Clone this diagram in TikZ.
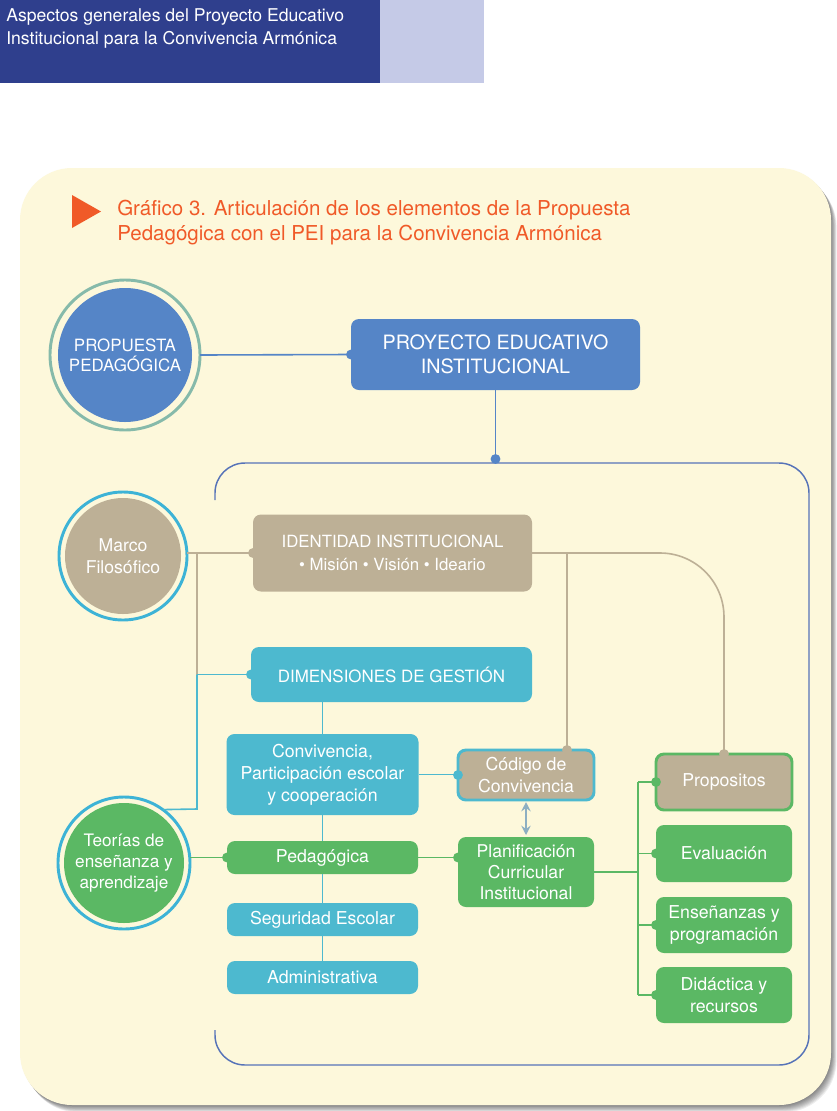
\documentclass[tikz,border=0pt]{standalone}
\usepackage{fontspec}
\setmainfont{TeX Gyre Heros}
\usetikzlibrary{arrows.meta,calc}
\definecolor{hdrdark}{HTML}{2F3F8D}
\definecolor{hdrlight}{HTML}{C5CAE7}
\definecolor{panel}{HTML}{FDF8DB}
\definecolor{pblue}{HTML}{5585C7}
\definecolor{pcyan}{HTML}{4DB9CF}
\definecolor{ptan}{HTML}{BDB096}
\definecolor{pgreen}{HTML}{5BB864}
\definecolor{ringgr}{HTML}{86BAAA}
\definecolor{ringcy}{HTML}{3DB3D6}
\definecolor{frameb}{HTML}{5673B8}
\definecolor{porange}{HTML}{F05A28}
\definecolor{parrow}{HTML}{8DAFC2}
\tikzset{
  sz/.style 2 args={minimum width=#1*0.75pt, minimum height=#2*0.75pt},
  box/.style={rounded corners=6pt, align=center, text=white, inner sep=0pt, outer sep=0pt, font=\fontsize{13.3}{16.5}\selectfont},
  bluebox/.style={box, fill=pblue},
  cyanbox/.style={box, fill=pcyan},
  tanbox/.style={box, fill=ptan},
  greenbox/.style={box, fill=pgreen},
  ringnode/.style n args={4}{circle, draw=#1, line width=2.2pt, fill=panel, inner sep=0pt, outer sep=0pt,
     minimum size=#2*0.75pt, text=white, align=center,
     path picture={\fill[#3] (path picture bounding box.center) circle[radius=#4];}},
  conn/.style={line width=1.2pt},
  cblue/.style={conn, draw=pblue},
  ccyan/.style={conn, draw=pcyan},
  ctan/.style={conn, draw=ptan},
  cgreen/.style={conn, draw=pgreen},
  hdrtext/.style={text=white, inner sep=0pt, font=\fontsize{13.2}{14}\selectfont},
}
\newcommand{\dotat}[2]{\fill[#1] (#2) circle[radius=3.7pt];}
\begin{document}
\begin{tikzpicture}[x=0.75pt,y=-0.75pt]
\useasboundingbox (0,0) rectangle (837,1111);
\fill[white] (0,0) rectangle (837,1111);
% header
\fill[hdrdark] (0,0) rectangle (380,83);
\fill[hdrlight] (380,0) rectangle (484,83);
\node[hdrtext, anchor=west] (h1) at (6,17) {Aspectos generales del Proyecto Educativo};
\node[hdrtext, anchor=west] (h2) at (6,40) {Institucional para la Convivencia Armónica};
% panel with shadow
\foreach \i in {1,...,8} {
  \fill[black, opacity=0.07, rounded corners=39pt] ({20+\i*0.7},{168+\i*0.9}) rectangle ({831+\i*0.7},{1105+\i*0.9});
}
\fill[panel, rounded corners=39pt] (20,168) rectangle (831,1105);
% title
\fill[porange] (72,195) -- (101,211.5) -- (72,228) -- cycle;
\node[anchor=west, text=porange, align=left, inner sep=0pt, font=\fontsize{15.4}{18.75}\selectfont] (title) at (117,222.5)
  {Gráfico 3. Articulación de los elementos de la Propuesta\\Pedagógica con el PEI para la Convivencia Armónica};
% inner frame
\draw[frameb, line width=1.1pt, rounded corners=22.5pt] (215,500) -- (215,463) -- (809,463) -- (809,1065) -- (215,1065) -- (215,1030);
\coordinate (ftop) at (495.5,459);
% circles
\node[ringnode={ringgr}{150}{pblue}{50.25pt}, font=\fontsize{12.7}{15}\selectfont] (pp) at (125,355) {PROPUESTA\\PEDAGÓGICA};
\node[ringnode={ringcy}{128}{ptan}{43.5pt}, font=\fontsize{13.2}{16.5}\selectfont] (marco) at (123,556) {Marco\\Filosófico};
\node[ringnode={ringcy}{132}{pgreen}{45pt}, font=\fontsize{12.9}{15.75}\selectfont] (teo) at (124,863) {Teorías de\\enseñanza y\\aprendizaje};
% boxes
\node[bluebox, sz={289}{71}, font=\fontsize{14.8}{18}\selectfont] (pei) at (495.5,354.5) {PROYECTO EDUCATIVO\\INSTITUCIONAL};
\node[tanbox, sz={279}{77}, font=\fontsize{12.6}{17.25}\selectfont] (iden) at (392.5,553) {IDENTIDAD INSTITUCIONAL\\• Misión • Visión • Ideario};
\node[cyanbox, sz={281}{55}, font=\fontsize{12.7}{15}\selectfont] (dim) at (391.5,674.5) {DIMENSIONES DE GESTIÓN};
\node[cyanbox, sz={192}{81}] (conv) at (322.5,774.5) {Convivencia,\\Participación escolar\\y cooperación};
\node[tanbox, sz={136}{50}, draw=pcyan, line width=2.2pt] (cod) at (526,775) {Código de\\Convivencia};
\node[tanbox, sz={136}{56}, draw=pgreen, line width=2.2pt] (prop) at (724,782) {Propositos};
\node[greenbox, sz={136}{57}] (eva) at (724,853.5) {Evaluación};
\node[greenbox, sz={136}{56}] (ens) at (724,925) {Enseñanzas y\\programación};
\node[greenbox, sz={136}{56}] (did) at (724,995) {Didáctica y\\recursos};
\node[greenbox, sz={191}{33}] (ped) at (322.5,857.5) {Pedagógica};
\node[cyanbox, sz={191}{33}] (seg) at (322.5,919.5) {Seguridad Escolar};
\node[cyanbox, sz={191}{33}] (adm) at (322.5,977.5) {Administrativa};
\node[greenbox, sz={136}{70}, font=\fontsize{13.2}{15.75}\selectfont] (plan) at (526,872) {Planificación\\Curricular\\Institucional};
% connectors
\draw[cblue] (pp.east) -- (pei.west);
\draw[cblue] (pei.south) -- (ftop);
\coordinate (j1) at (197,553);
\coordinate (j2) at (197,674.5);
\coordinate (j3) at (197,809);
\coordinate (tx) at (638,872);
\coordinate (codt) at ($(cod.north)+(41,0)$);
\draw[ctan] (marco.east |- iden.west) -- (iden.west);
\draw[ctan] (j1) -- (j2);
\draw[ccyan] (j2) -- (dim.west);
\draw[ccyan] (j2) -- (j3) -- (teo.54);
\draw[ccyan] (dim.south -| conv.north) -- (conv.north);
\draw[ccyan] (conv.south) -- (ped.north);
\draw[ccyan] (ped.south) -- (seg.north);
\draw[ccyan] (seg.south) -- (adm.north);
\draw[ccyan] (conv.east) -- (conv.east -| cod.west);
\draw[cgreen] (teo.east |- ped.west) -- (ped.west);
\draw[cgreen] (ped.east) -- (ped.east -| plan.west);
\draw[conn, draw=parrow, {Stealth[length=7pt,width=7pt,inset=2.5pt]}-{Stealth[length=7pt,width=7pt,inset=2.5pt]}] ([yshift=-1.5pt]cod.south) -- ([yshift=1.5pt]plan.north);
\draw[ctan] (iden.east -| codt) -- (codt);
\draw[ctan, rounded corners=48pt] (iden.east) -- (iden.east -| prop.north) -- (prop.north);
\draw[cgreen] (plan.east) -- (tx);
\draw[cgreen] (prop.west -| tx) -- (did.west -| tx);
\draw[cgreen] (prop.west -| tx) -- (prop.west);
\draw[cgreen] (eva.west -| tx) -- (eva.west);
\draw[cgreen] (ens.west -| tx) -- (ens.west);
\draw[cgreen] (did.west -| tx) -- (did.west);
% dots
\dotat{pblue}{pei.west}
\dotat{pblue}{ftop}
\dotat{ptan}{iden.west}
\dotat{pcyan}{dim.west}
\dotat{pcyan}{cod.west}
\dotat{pgreen}{ped.west}
\dotat{pgreen}{ped.east -| plan.west}
\dotat{ptan}{codt}
\dotat{ptan}{prop.north}
\dotat{pgreen}{prop.west}
\dotat{pgreen}{eva.west}
\dotat{pgreen}{ens.west}
\dotat{pgreen}{did.west}
\end{tikzpicture}
\end{document}
